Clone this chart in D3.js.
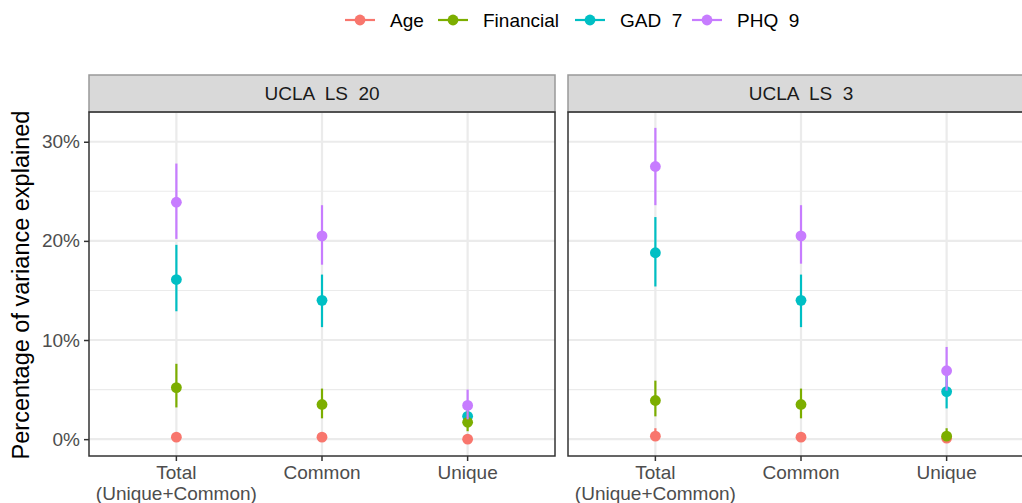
<!DOCTYPE html>
<html><head><meta charset="utf-8">
<script src="https://cdn.jsdelivr.net/npm/d3@7"></script>
<style>body{margin:0;background:#fff}text{font-family:"Liberation Sans",Arial,sans-serif}</style>
</head><body><svg id="c" width="1022" height="503"></svg>
<script>
const panels = ["UCLA  LS  20", "UCLA  LS  3"];
const categories = ["Total\n(Unique+Common)", "Common", "Unique"];
const groups = ["Age", "Financial", "GAD  7", "PHQ  9"];
const colors = ["#F8766D", "#7CAE00", "#00BFC4", "#C77CFF"];
const yTicks = [0, 10, 20, 30];
const yMinor = [5, 15, 25];

// [panel][group][category]
const est = [
  [[0.2, 0.2, 0.0], [5.2, 3.5, 1.7], [16.1, 14.0, 2.3], [23.9, 20.5, 3.4]],
  [[0.3, 0.2, 0.1], [3.9, 3.5, 0.3], [18.8, 14.0, 4.8], [27.5, 20.5, 6.9]]
];
const lower = [
  [[-0.1, -0.1, -0.2], [3.2, 2.1, 0.8], [12.9, 11.3, 1.3], [20.2, 17.6, 2.0]],
  [[-0.1, -0.1, -0.1], [2.3, 2.1, -0.1], [15.4, 11.3, 3.1], [23.6, 17.7, 4.9]]
];
const upper = [
  [[0.6, 0.5, 0.3], [7.6, 5.1, 2.8], [19.6, 16.6, 3.5], [27.8, 23.6, 5.0]],
  [[1.1, 0.5, 0.4], [5.9, 5.1, 1.1], [22.4, 16.6, 6.8], [31.4, 23.6, 9.3]]
];

const svg = d3.select("#c");
const plotTop = 112, plotBottom = 456, stripTop = 75;
const panelX = [[89, 555], [568, 1034]];
const y = d3.scaleLinear().domain([-1.7, 33.0]).range([plotBottom, plotTop]);

panelX.forEach((px, p) => {
  const x = d3.scalePoint().domain(categories).range(px).padding(0.6);
  const g = svg.append("g");
  yMinor.forEach(v => g.append("line").attr("x1", px[0]).attr("x2", px[1]).attr("y1", y(v)).attr("y2", y(v))
    .attr("stroke", "#EBEBEB").attr("stroke-width", 1.1));
  yTicks.forEach(v => g.append("line").attr("x1", px[0]).attr("x2", px[1]).attr("y1", y(v)).attr("y2", y(v))
    .attr("stroke", "#EBEBEB").attr("stroke-width", 2.2));
  categories.forEach(c => g.append("line").attr("x1", x(c)).attr("x2", x(c)).attr("y1", plotTop).attr("y2", plotBottom)
    .attr("stroke", "#EBEBEB").attr("stroke-width", 2.2));
  g.append("rect").attr("x", px[0]).attr("y", stripTop).attr("width", px[1] - px[0]).attr("height", plotTop - stripTop)
    .attr("fill", "#D9D9D9").attr("stroke", "#999").attr("stroke-width", 1.5);
  g.append("text").attr("x", (px[0] + px[1]) / 2).attr("y", (stripTop + plotTop) / 2 + 6.5)
    .attr("text-anchor", "middle").attr("font-size", 19).attr("fill", "#1A1A1A")
    .style("white-space", "pre").text(panels[p]);
  const order = [0, 2, 1, 3];
  order.forEach(gi => {
    categories.forEach((c, ci) => {
      g.append("line").attr("x1", x(c)).attr("x2", x(c))
        .attr("y1", y(lower[p][gi][ci])).attr("y2", y(upper[p][gi][ci]))
        .attr("stroke", colors[gi]).attr("stroke-width", 2.2);
      g.append("circle").attr("cx", x(c)).attr("cy", y(est[p][gi][ci])).attr("r", 5.4)
        .attr("fill", colors[gi]);
    });
  });
  g.append("rect").attr("x", px[0]).attr("y", plotTop).attr("width", px[1] - px[0]).attr("height", plotBottom - plotTop)
    .attr("fill", "none").attr("stroke", "#333").attr("stroke-width", 1.5);
  const xa = g.append("g").attr("transform", `translate(0,${plotBottom})`);
  categories.forEach(c => {
    xa.append("line").attr("x1", x(c)).attr("x2", x(c)).attr("y1", 0).attr("y2", 5).attr("stroke", "#333").attr("stroke-width", 1.5);
    const t = xa.append("text").attr("text-anchor", "middle").attr("font-size", 19).attr("fill", "#4D4D4D");
    c.split("\n").forEach((s, i) => t.append("tspan").attr("x", x(c)).attr("y", 23 + i * 21).text(s));
  });
});

const ya = svg.append("g").attr("transform", `translate(${panelX[0][0]},0)`);
ya.call(d3.axisLeft(y).tickValues(yTicks).tickSize(5).tickPadding(4).tickFormat(d => d + "%"));
ya.select(".domain").remove();
ya.selectAll(".tick line").attr("stroke", "#333").attr("stroke-width", 1.5);
ya.selectAll(".tick text").attr("font-size", 19).attr("fill", "#4D4D4D").attr("font-family", "Liberation Sans, Arial, sans-serif");

svg.append("text").attr("transform", `translate(29,${(plotTop + plotBottom) / 2 + 1}) rotate(-90)`)
  .attr("text-anchor", "middle").attr("font-size", 23.5).attr("fill", "#000")
  .text("Percentage of variance explained");

const legX = [345, 438, 575, 692];
const leg = svg.append("g");
groups.forEach((gname, i) => {
  leg.append("line").attr("x1", legX[i]).attr("x2", legX[i] + 30).attr("y1", 20).attr("y2", 20)
    .attr("stroke", colors[i]).attr("stroke-width", 2.2);
  leg.append("circle").attr("cx", legX[i] + 15).attr("cy", 20).attr("r", 5.4).attr("fill", colors[i]);
  leg.append("text").attr("x", legX[i] + 45).attr("y", 27).attr("font-size", 19).attr("fill", "#000")
    .style("white-space", "pre").text(gname);
});
</script></body></html>
